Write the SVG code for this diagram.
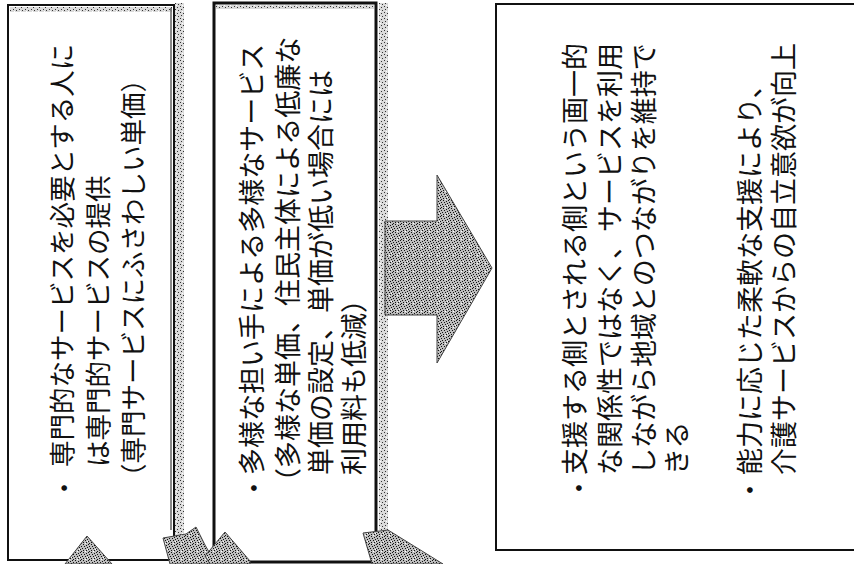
<svg xmlns="http://www.w3.org/2000/svg" width="854" height="564" viewBox="0 0 854 564">
<style>
  .t { font-family: "Noto Sans CJK JP", "Noto Sans CJK SC", sans-serif; fill: #111; dominant-baseline: central; }
  .b { text-anchor: middle; }
  .f1 { font-size: 26.5px; }
  .f2 { font-size: 27px; }
  .frame { fill: #fff; stroke: #111; }
  .arr { fill: url(#stip); stroke: #444; stroke-width: 1; }
  .band { fill: url(#stip2); }
</style>
<defs>
  <pattern id="stip" width="8" height="8" patternUnits="userSpaceOnUse">
    <rect width="8" height="8" fill="#bdbdbd"/>
    <rect x="0" y="0" width="1" height="1" fill="#111"/>
    <rect x="3" y="0" width="1" height="1" fill="#111"/>
    <rect x="6" y="1" width="1" height="1" fill="#111"/>
    <rect x="1" y="2" width="1" height="1" fill="#111"/>
    <rect x="4" y="2" width="1" height="1" fill="#111"/>
    <rect x="7" y="3" width="1" height="1" fill="#111"/>
    <rect x="2" y="4" width="1" height="1" fill="#111"/>
    <rect x="5" y="4" width="1" height="1" fill="#111"/>
    <rect x="0" y="5" width="1" height="1" fill="#111"/>
    <rect x="3" y="6" width="1" height="1" fill="#111"/>
    <rect x="6" y="6" width="1" height="1" fill="#111"/>
    <rect x="1" y="7" width="1" height="1" fill="#111"/>
    <rect x="5" y="7" width="1" height="1" fill="#fff"/>
    <rect x="7" y="5" width="1" height="1" fill="#fff"/>
  </pattern>
  <pattern id="stip2" width="6" height="6" patternUnits="userSpaceOnUse">
    <rect width="6" height="6" fill="#dadada"/>
    <rect x="0" y="0" width="1" height="1" fill="#333"/>
    <rect x="3" y="1" width="1" height="1" fill="#333"/>
    <rect x="1" y="3" width="1" height="1" fill="#333"/>
    <rect x="4" y="4" width="1" height="1" fill="#333"/>
    <rect x="2" y="5" width="1" height="1" fill="#fff"/>
  </pattern>
</defs>
<rect width="854" height="564" fill="#fff"/>

<g id="box1">
  <rect class="frame" x="8" y="5" width="166" height="555" stroke-width="2"/>
  <rect class="band" x="175" y="3" width="9" height="535"/>
  <rect class="band" x="10" y="7" width="162" height="5"/>
  <line x1="171" y1="8" x2="171" y2="530" stroke="#111" stroke-width="1"/>
  <g transform="rotate(-90)">
    <text class="t f1 b" x="-488" y="62">・</text>
    <text class="t f1" x="-467" y="60">専門的なサービスを必要とする人に</text>
    <text class="t f1" x="-467" y="96">は専門的サービスの提供</text>
    <text class="t f1" x="-490" y="131">（専門サービスにふさわしい単価）</text>
  </g>
</g>

<g id="box2">
  <rect class="frame" x="214" y="3" width="162" height="559" stroke-width="3"/>
  <rect class="band" x="379" y="3" width="9" height="527"/>
  <rect class="band" x="216" y="5" width="158" height="4"/>
  <g transform="rotate(-90)">
    <text class="t f2 b" x="-488" y="252">・</text>
    <text class="t f2" x="-475" y="250">多様な担い手による多様なサービス</text>
    <text class="t f2" x="-495" y="286">（多様な単価、住民主体による低廉な</text>
    <text class="t f2" x="-475" y="319">単価の設定、単価が低い場合には</text>
    <text class="t f2" x="-475" y="352">利用料も低減）</text>
  </g>
</g>

<g id="box3">
  <rect class="frame" x="496" y="4" width="360" height="546" stroke-width="2"/>
  <g transform="rotate(-90)">
    <text class="t f2 b" x="-488" y="577">・</text>
    <text class="t f2" x="-475" y="573">支援する側とされる側という画一的</text>
    <text class="t f2" x="-475" y="608">な関係性ではなく、サービスを利用</text>
    <text class="t f2" x="-475" y="642">しながら地域とのつながりを維持で</text>
    <text class="t f2" x="-475" y="675">きる</text>
    <text class="t f2 b" x="-490" y="748">・</text>
    <text class="t f2" x="-475" y="748">能力に応じた柔軟な支援により、</text>
    <text class="t f2" x="-475" y="782">介護サービスからの自立意欲が向上</text>
  </g>
</g>

<g id="connectors">
  <polygon class="arr" points="385,221 437,221 437,175 492,268 437,363 437,315 385,315"/>
  <polygon class="arr" points="65,564 87,536 112,564"/>
  <polygon class="arr" points="163,538 186,534 196,527 205,545 216,564 170,564"/>
  <polygon class="arr" points="205,556 225,532 250,561 250,564 210,564"/>
  <polygon class="arr" points="363,533 388,530 443,564 372,564"/>
</g>
</svg>
